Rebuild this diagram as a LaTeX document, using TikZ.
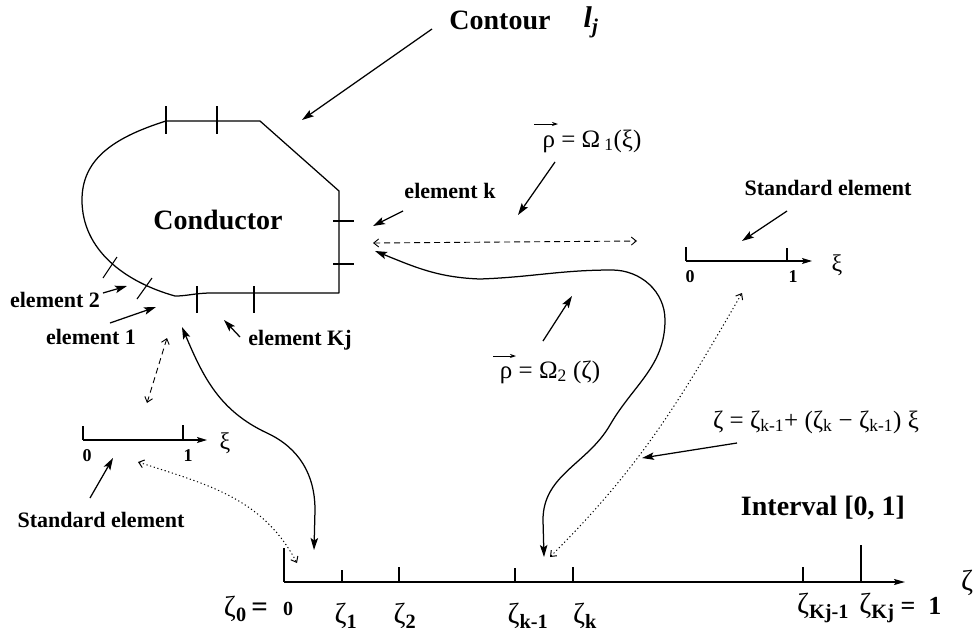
\documentclass[tikz,border=0pt]{standalone}
\usepackage{fontspec}
\setmainfont{Liberation Serif}
\usepackage{graphicx}
\usetikzlibrary{arrows.meta}
\newcommand\fs[1]{\fontsize{#1}{#1}\selectfont}
\begin{document}
\begin{tikzpicture}[x=1pt,y=-1pt,
  lab/.style={font=\fs{22}\bfseries, inner sep=0pt},
  big/.style={font=\fs{28}\bfseries, inner sep=0pt},
  frm/.style={font=\fs{25}, inner sep=0pt},
  zl/.style={font=\fs{29}, inner sep=0pt},
  num/.style={font=\fs{18}\bfseries, inner sep=0pt},
  ln/.style={line width=1.25pt},
  tk/.style={line width=1.1pt},
  sarr/.style={ln, -{Stealth[length=12pt,width=7.5pt,inset=2.5pt]}},
  sboth/.style={ln, {Stealth[length=12pt,width=7.5pt,inset=2.5pt]}-{Stealth[length=12pt,width=7.5pt,inset=2.5pt]}},
  dboth/.style={line width=0.9pt, dash pattern=on 6pt off 4pt, {Straight Barb[length=5pt,width=8pt]}-{Straight Barb[length=5pt,width=8pt]}},
  pboth/.style={line width=1pt, dash pattern=on 1.2pt off 2.6pt, {Straight Barb[length=5pt,width=8pt]}-{Straight Barb[length=5pt,width=8pt]}},
  vec/.style={line width=0.8pt, -{Stealth[length=6pt,width=4pt]}}
]
\fill[white] (0,0) rectangle (978,635);
\useasboundingbox (0,0) rectangle (978,635);

% ---------- contour ----------
\draw[ln, line join=round] (166,121) -- (260,121) -- (339,191) -- (339,293) -- (212,293)
  .. controls (195,293) and (188,296) .. (175,296)
  .. controls (125,282) and (82,250) .. (82,200)
  .. controls (82,160) and (112,138) .. cycle;
\draw[tk] (166,106) -- (166,134);
\draw[tk] (217,106) -- (217,134);
\draw[tk] (333,221) -- (354,221);
\draw[tk] (333,264) -- (354,264);
\draw[tk] (197,286) -- (197,313);
\draw[tk] (254,286) -- (254,313);
\draw[tk] (103,278) -- (117,257);
\draw[tk] (137,299) -- (152,278);

% ---------- labels ----------
\node[big] (contour) at (500,20) {Contour};
\node[big, font=\fs{30}\bfseries] (lj) at (591,22) {\itshape l\textsubscript{j}};
\node[big] (cond) at (218,220) {Conductor};
\node[big] (interval) at (823,508) {Interval [0, 1]};
\node[lab] (ek) at (450,191) {element k};
\node[lab] (stdr) at (828,188) {Standard element};
\node[lab] (e2) at (55,300) {element 2};
\node[lab] (e1) at (91,337) {element 1};
\node[lab] (ekj) at (300,340) {element Kj};
\node[lab] (stdl) at (101,520) {Standard element};
\node[frm] (om1) at (592,141) {ρ = Ω\,\textsubscript{1}(ξ)};
\node[frm] (om2) at (550,372) {ρ = Ω\textsubscript{2} (ζ)};
\node[frm] (form) at (816,422) {ζ = ζ\textsubscript{k-1}+ (ζ\textsubscript{k} − ζ\textsubscript{k-1}) ξ};
\draw[vec] (534,124) -- (558,124);
\draw[vec] (493,356) -- (516,356);

% ---------- standard element (right) ----------
\draw[tk] (686,247) -- (686,261);
\draw[ln, -{Stealth[length=10pt,width=6pt,inset=2pt]}] (686,261) -- (812,261);
\draw[tk] (787,248) -- (787,261);
\node[num] (r0) at (690,277) {0};
\node[num] (r1) at (793,277) {1};
\node[font=\fs{24}, inner sep=0pt] (rxi) at (837,265) {ξ};

% ---------- standard element (left) ----------
\draw[tk] (83,426) -- (83,440);
\draw[ln, -{Stealth[length=10pt,width=6pt,inset=2pt]}] (83,440) -- (207,440);
\draw[tk] (183,425) -- (183,440);
\node[num] (l0) at (87,456) {0};
\node[num] (l1) at (188,456) {1};
\node[font=\fs{24}, inner sep=0pt] (lxi) at (225,443) {ξ};

% ---------- interval axis ----------
\draw[ln] (284,548) -- (284,582);
\draw[ln, -{Stealth[length=11pt,width=6pt,inset=2pt]}] (284,582) -- (905,582);
\foreach \x/\t in {342/570, 399/567, 515/568, 573/567, 803/567, 861/545}
  \draw[tk] (\x,\t) -- (\x,582);
\node[zl] (z0) at (246,609) {ζ\textsubscript{\bfseries 0}\,\textbf{=}};
\node[num, font=\fs{20}\bfseries] (zz) at (288,609) {0};
\node[zl] (z1) at (346,616) {ζ\textsubscript{\bfseries 1}};
\node[zl] (z2) at (405,616) {ζ\textsubscript{\bfseries 2}};
\node[zl] (zk1) at (528,616) {ζ\textsubscript{\bfseries k-1}};
\node[zl] (zk) at (585,616) {ζ\textsubscript{\bfseries k}};
\node[zl] (zkj1) at (823,608) {ζ\textsubscript{\bfseries Kj-1}};
\node[zl] (zkj) at (877,608) {ζ\textsubscript{\bfseries Kj}};
\node[inner sep=0pt, font=\fs{26}\bfseries] (eq1) at (921,606) {=\ \ 1};
\node[zl] (zax) at (967,583) {ζ};

% ---------- arrow end points ----------
\coordinate (ca) at (432,29);   \coordinate (cb) at (302,120);
\coordinate (eka) at (403,211); \coordinate (ekb) at (373,226);
\coordinate (o1a) at (555,162); \coordinate (o1b) at (518,215);
\coordinate (da) at (373,243);  \coordinate (db) at (637,241);
\coordinate (o2s) at (375,251); \coordinate (o2e) at (544,557);
\coordinate (o2pa) at (543,341); \coordinate (o2pb) at (572,296);
\coordinate (dra) at (550,557); \coordinate (drb) at (742,293);
\coordinate (fa) at (737,443);  \coordinate (fb) at (642,458);
\coordinate (sra) at (787,211); \coordinate (srb) at (742,241);
\coordinate (e2a) at (103,293); \coordinate (e2b) at (127,286);
\coordinate (e1a) at (110,323); \coordinate (e1b) at (156,307);
\coordinate (ekja) at (240,337); \coordinate (ekjb) at (224,320);
\coordinate (lda) at (167,338); \coordinate (ldb) at (147,403);
\coordinate (lcs) at (182,327); \coordinate (lce) at (314,550);
\coordinate (lpa) at (138,462); \coordinate (lpb) at (297,563);
\coordinate (sla) at (90,498);  \coordinate (slb) at (113,458);

% ---------- connectors ----------
\draw[sarr] (ca) -- (cb);
\draw[sarr] (eka) -- (ekb);
\draw[sarr] (o1a) -- (o1b);
\draw[dboth] (da) -- (db);
\draw[sboth] (o2s) to[out=-22,in=178] (480,279) to[out=2,in=180] (612,270)
  to[out=0,in=90] (665,320) to[out=-90,in=60] (610,425) to[out=240,in=90] (543,520) -- (o2e);
\draw[sarr] (o2pa) -- (o2pb);
\draw[pboth] (dra) to[out=45,in=240] (drb);
\draw[sarr] (fa) -- (fb);
\draw[sarr] (sra) -- (srb);
\draw[sarr] (e2a) -- (e2b);
\draw[sarr] (e1a) -- (e1b);
\draw[sarr] (ekja) -- (ekjb);
\draw[dboth] (lda) -- (ldb);
\draw[sboth] (lcs) to[out=-67,in=155] (267,433) to[out=-25,in=90] (315,510) -- (lce);
\draw[pboth] (lpa) to[out=-18,in=118] (lpb);
\draw[sarr] (sla) -- (slb);
\end{tikzpicture}
\end{document}
